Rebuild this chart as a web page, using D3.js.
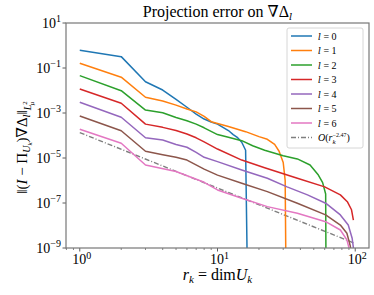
<!DOCTYPE html>
<html>
<head>
<meta charset="utf-8">
<script src="https://cdn.jsdelivr.net/npm/d3@7"></script>
<style>
  body { margin: 0; background: #fff; }
  svg { display: block; }
  text { font-family: "Liberation Serif", "DejaVu Serif", serif; fill: #000; }
  .mi { font-family: "DejaVu Serif", serif; font-style: italic; }
</style>
</head>
<body>
<svg id="chart"></svg>
<script>
// projection error per l, [r_k, error] pairs
const errL0 = [[1, 6.1e-1], [2, 3.2e-1], [3, 2.45e-2], [4, 1.05e-2], [5, 4.0e-3], [6, 1.8e-3],
  [7, 9.0e-4], [8, 5.4e-4], [9, 4.0e-4], [10, 3.2e-4], [12, 1.66e-4], [13, 1.1e-4],
  [14, 8.0e-5], [15, 5.0e-5], [16, 2.2e-5], [17, 1e-16]];
const errL1 = [[1, 1.62e-1], [2, 3.9e-2], [3, 5.0e-3], [4, 3.4e-3], [5, 2.24e-3], [6, 1.5e-3],
  [7, 1.12e-3], [8, 7.1e-4], [9, 4.1e-4], [12, 2.5e-4], [16, 1.48e-4], [20, 8.9e-5],
  [23, 6.8e-5], [26, 4.0e-5], [28, 2.0e-5], [30, 6.3e-6], [31, 1.0e-6], [32, 1e-16]];
const errL2 = [[1, 4.6e-2], [2, 9.8e-3], [3, 1.35e-3], [4, 1.02e-3], [5, 6.3e-4], [6, 4.5e-4],
  [7, 3.2e-4], [8, 2.2e-4], [10, 1.1e-4], [12, 8.3e-5], [15, 5.9e-5], [18, 3.5e-5],
  [22, 2.2e-5], [30, 1.26e-5], [38, 9.1e-6], [47, 4.9e-6], [54, 1.74e-6], [58, 8.0e-7],
  [61, 2.5e-7], [62, 1e-16]];
const errL3 = [[1, 1.17e-2], [2, 2.7e-3], [3, 3.2e-4], [4, 2.3e-4], [5, 1.66e-4], [6, 1.17e-4],
  [7, 7.9e-5], [8, 5.2e-5], [10, 2.5e-5], [15, 8.1e-6], [22, 3.7e-6], [38, 1.26e-6],
  [60, 5.2e-7], [78, 2.3e-7], [88, 1.1e-7], [94, 5.0e-8], [97, 1.74e-8]];
const errL4 = [[1, 3.0e-3], [2, 6.5e-4], [3, 7.9e-5], [4, 6.3e-5], [5, 4.0e-5], [6, 3.0e-5],
  [7, 1.78e-5], [8, 1.07e-5], [10, 6.9e-6], [15, 2.95e-6], [23, 1.26e-6], [32, 5.2e-7],
  [45, 2.3e-7], [61, 9.8e-8], [78, 2.95e-8], [89, 1.05e-8], [95, 2.7e-9], [98, 6.3e-10]];
const errL5 = [[1, 7.4e-4], [2, 1.62e-4], [3, 2.0e-5], [4, 1.4e-5], [5, 1.07e-5], [6, 8.1e-6],
  [8, 3.2e-6], [10, 1.74e-6], [15, 7.6e-7], [23, 3.2e-7], [38, 9.8e-8], [61, 2.95e-8],
  [78, 1.05e-8], [87, 4.5e-9], [92, 1.26e-9], [95, 3.2e-10]];
const errL6 = [[1, 1.9e-4], [2, 4.5e-5], [3, 4.9e-6], [5, 2.5e-6], [8, 8.3e-7], [10, 3.8e-7],
  [15, 1.62e-7], [23, 6.9e-8], [38, 3.5e-8], [61, 1.48e-8], [78, 6.3e-9], [87, 2.3e-9],
  [91, 8.0e-10]];
// reference rate O(r_k^-2.47), end points
const refRate = [[1, 1.35e-4], [97, 1.7e-9]];

const seriesData = [errL0, errL1, errL2, errL3, errL4, errL5, errL6];
const seriesColors = ['#1f77b4', '#ff7f0e', '#2ca02c', '#d62728', '#9467bd', '#8c564b', '#e377c2'];
const xTickValues = [1, 10, 100];
const yTickValues = [1e1, 1e-1, 1e-3, 1e-5, 1e-7, 1e-9];

const width = 374;
const height = 295;
const margin = { top: 23, right: 5, bottom: 47, left: 66 };

const svg = d3.select('#chart').attr('width', width).attr('height', height);

const xScale = d3.scaleLog()
  .domain([Math.pow(10, -0.1), Math.pow(10, 2.1)])
  .range([margin.left, width - margin.right]);
const yScale = d3.scaleLog()
  .domain([1e-9, 1e1])
  .range([height - margin.bottom, margin.top]);

const x0 = margin.left;
const x1 = width - margin.right;
const y0 = height - margin.bottom;
const y1 = margin.top;

svg.append('clipPath')
  .attr('id', 'plot-clip')
  .append('rect')
  .attr('x', x0).attr('y', y1)
  .attr('width', x1 - x0).attr('height', y0 - y1);

// minor ticks on x
const minorX = [];
for (let p = -1; p <= 2; p += 1) {
  for (let m = 2; m <= 9; m += 1) {
    const v = m * Math.pow(10, p);
    if (v > xScale.domain()[0] && v < xScale.domain()[1]) minorX.push(v);
  }
}

const axisColor = '#333';

svg.append('g')
  .selectAll('line')
  .data(minorX)
  .enter().append('line')
  .attr('x1', d => xScale(d)).attr('x2', d => xScale(d))
  .attr('y1', y0).attr('y2', y0 + 2)
  .attr('stroke', axisColor).attr('stroke-width', 0.6);

svg.append('g')
  .selectAll('line')
  .data(xTickValues)
  .enter().append('line')
  .attr('x1', d => xScale(d)).attr('x2', d => xScale(d))
  .attr('y1', y0).attr('y2', y0 + 3.5)
  .attr('stroke', axisColor).attr('stroke-width', 0.8);

svg.append('g')
  .selectAll('line')
  .data(yTickValues)
  .enter().append('line')
  .attr('x1', x0 - 3.5).attr('x2', x0)
  .attr('y1', d => yScale(d)).attr('y2', d => yScale(d))
  .attr('stroke', axisColor).attr('stroke-width', 0.8);

// tick labels 10^k
const xLabels = svg.append('g')
  .selectAll('text')
  .data(xTickValues)
  .enter().append('text')
  .attr('x', d => xScale(d) + 2)
  .attr('y', y0 + 16)
  .attr('text-anchor', 'middle')
  .attr('font-size', 14);
xLabels.append('tspan').text('10');
xLabels.append('tspan')
  .attr('dy', -5.5).attr('font-size', 10)
  .text(d => Math.round(Math.log10(d)));

const yLabels = svg.append('g')
  .selectAll('text')
  .data(yTickValues)
  .enter().append('text')
  .attr('x', x0 - 5)
  .attr('y', d => yScale(d) + 4.5)
  .attr('text-anchor', 'end')
  .attr('font-size', 14);
yLabels.append('tspan').text('10');
yLabels.append('tspan')
  .attr('dy', -5.5).attr('font-size', 10)
  .text(d => {
    const k = Math.round(Math.log10(d));
    return k < 0 ? `\u2212${-k}` : `${k}`;
  });

// lines
const line = d3.line()
  .x(d => xScale(d[0]))
  .y(d => yScale(d[1]));

const plot = svg.append('g').attr('clip-path', 'url(#plot-clip)');

plot.append('path')
  .datum(refRate)
  .attr('d', line)
  .attr('fill', 'none')
  .attr('stroke', '#7f7f7f')
  .attr('stroke-width', 1.4)
  .attr('stroke-dasharray', '5,2,1,2');

seriesData.forEach((s, i) => {
  plot.append('path')
    .datum(s)
    .attr('d', line)
    .attr('fill', 'none')
    .attr('stroke', seriesColors[i])
    .attr('stroke-width', 1.5)
    .attr('stroke-linejoin', 'round');
});

// frame
svg.append('rect')
  .attr('x', x0).attr('y', y1)
  .attr('width', x1 - x0).attr('height', y0 - y1)
  .attr('fill', 'none')
  .attr('stroke', '#777')
  .attr('stroke-width', 1.2);

// title
const title = svg.append('text')
  .attr('x', (x0 + x1) / 2)
  .attr('y', 17)
  .attr('text-anchor', 'middle')
  .attr('font-size', 16);
title.append('tspan').text('Projection error on \u2207\u0394');
title.append('tspan').attr('class', 'mi').attr('font-size', 10).attr('dy', 3).text('l');

// x label
const xLabel = svg.append('text')
  .attr('x', (x0 + x1) / 2)
  .attr('y', 280)
  .attr('text-anchor', 'middle')
  .attr('font-size', 16);
xLabel.append('tspan').attr('font-style', 'italic').text('r');
xLabel.append('tspan').attr('font-style', 'italic').attr('font-size', 11).attr('dy', 3).text('k');
xLabel.append('tspan').attr('dy', -3).text(' = dim');
xLabel.append('tspan').attr('font-style', 'italic').text('U');
xLabel.append('tspan').attr('font-style', 'italic').attr('font-size', 11).attr('dy', 3).text('k');

// y label
const yLabel = svg.append('text')
  .attr('transform', `translate(27,${(y0 + y1) / 2 + 12}) rotate(-90)`)
  .attr('text-anchor', 'middle')
  .attr('font-size', 15);
yLabel.append('tspan').text('\u2016(');
yLabel.append('tspan').attr('font-style', 'italic').text('I');
yLabel.append('tspan').text(' \u2212 \u03a0');
yLabel.append('tspan').attr('font-style', 'italic').attr('font-size', 10).attr('dy', 3).text('U');
yLabel.append('tspan').attr('font-style', 'italic').attr('font-size', 7).attr('dy', 2).text('k');
yLabel.append('tspan').attr('dy', -5).text(')\u2207\u0394');
yLabel.append('tspan').attr('class', 'mi').attr('font-size', 9).attr('dy', 3).text('l');
yLabel.append('tspan').attr('dy', -3).text('\u2016');
yLabel.append('tspan').attr('font-style', 'italic').attr('font-size', 10).attr('dy', 4).text('L');
yLabel.append('tspan').attr('font-size', 7).attr('dy', -4).text('2');
yLabel.append('tspan').attr('font-style', 'italic').attr('font-size', 7).attr('dx', -4).attr('dy', 7).text('\u03bc');

// legend
const legendX = 287;
const legendY = 28;
const legendRow = 14.5;
const legend = svg.append('g');
legend.append('rect')
  .attr('x', legendX).attr('y', legendY)
  .attr('width', 76).attr('height', 120)
  .attr('rx', 2)
  .attr('fill', '#fff').attr('fill-opacity', 0.8)
  .attr('stroke', '#ccc').attr('stroke-width', 0.8);

const legendItems = seriesColors.map((c, i) => ({ color: c, dash: null, l: i }));
legendItems.push({ color: '#7f7f7f', dash: '5,2,1,2', l: null });

const rows = legend.selectAll('.legend-row')
  .data(legendItems)
  .enter().append('g')
  .attr('class', 'legend-row')
  .attr('transform', (d, i) => `translate(0,${legendY + 8 + i * legendRow})`);

rows.append('line')
  .attr('x1', legendX + 4).attr('x2', legendX + 25)
  .attr('y1', 0).attr('y2', 0)
  .attr('stroke', d => d.color)
  .attr('stroke-width', 1.5)
  .attr('stroke-dasharray', d => d.dash);

rows.each(function (d) {
  const t = d3.select(this).append('text')
    .attr('x', legendX + 31)
    .attr('y', 3.5)
    .attr('font-size', 10);
  if (d.l !== null) {
    t.append('tspan').attr('class', 'mi').attr('font-size', 9).text('l');
    t.append('tspan').text(` = ${d.l}`);
  } else {
    t.append('tspan').attr('font-style', 'italic').text('O');
    t.append('tspan').text('(');
    t.append('tspan').attr('font-style', 'italic').text('r');
    t.append('tspan').attr('font-style', 'italic').attr('font-size', 7).attr('dy', 2.5).text('k');
    t.append('tspan').attr('font-size', 6).attr('dx', -3).attr('dy', -7).text('\u22122.47');
    t.append('tspan').attr('dy', 4.5).text(')');
  }
});
</script>
</body>
</html>
